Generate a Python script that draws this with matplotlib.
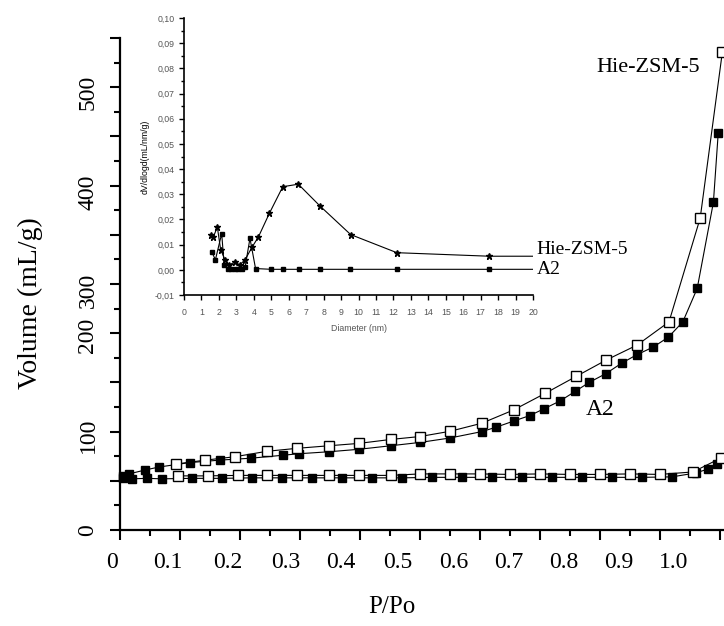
#%%
# Libraries
import numpy as np
import matplotlib
matplotlib.use("Agg")
import matplotlib.pyplot as plt
from matplotlib.ticker import MultipleLocator, NullFormatter

#%%
# Isotherm data, P/Po vs volume (mL/g)
hie_ads_p = [0.005, 0.015, 0.042, 0.065, 0.116, 0.166, 0.219, 0.272, 0.298, 0.348, 0.398,
             0.451, 0.5, 0.55, 0.603, 0.627, 0.656, 0.683, 0.706, 0.733, 0.759, 0.782,
             0.81, 0.836, 0.861, 0.889, 0.914, 0.938, 0.962, 0.989, 0.997]
hie_ads_v = [55, 57, 61, 64, 68.5, 71, 73, 76, 77.5, 79.5, 82,
             85.6, 89, 93.5, 100, 104.5, 110.7, 116.3, 123, 131, 141, 150,
             159, 169.5, 178, 186, 196, 211.5, 245.5, 333, 403]
hie_des_p = [0.093, 0.142, 0.192, 0.245, 0.295, 0.348, 0.398, 0.451, 0.5, 0.55,
             0.603, 0.656, 0.709, 0.76, 0.81, 0.862, 0.915, 0.967, 1.004]
hie_des_v = [67, 71, 74.5, 80, 83, 85.6, 88, 92, 95, 100.3,
             108.5, 122, 139, 156, 172.6, 188, 211.5, 317, 486]

a2_ads_p = [0.005, 0.02, 0.045, 0.07, 0.12, 0.17, 0.22, 0.27, 0.32, 0.37, 0.42, 0.47,
            0.52, 0.57, 0.62, 0.67, 0.72, 0.77, 0.82, 0.87, 0.92, 0.96, 0.98, 0.995]
a2_ads_v = [53, 52, 52.5, 52, 52.5, 52.5, 53, 53, 53, 53, 53, 53,
            53.5, 53.5, 53.5, 53.5, 53.5, 53.5, 53.5, 53.5, 54, 58, 62, 67]
a2_des_p = [0.096, 0.146, 0.196, 0.245, 0.295, 0.348, 0.398, 0.451, 0.5, 0.55,
            0.6, 0.65, 0.7, 0.75, 0.8, 0.85, 0.9, 0.955, 1.001]
a2_des_v = [55, 55, 55.5, 55.5, 55.5, 55.5, 55.5, 55.5, 57, 57,
            57, 56.5, 57, 56.5, 56.5, 57, 56.5, 59, 73]

# Pore size distribution, diameter (nm) vs dV/dlogd
hie_psd_d = [1.55, 1.68, 1.91, 2.1, 2.35, 2.6, 2.9, 3.2, 3.5, 3.9, 4.26, 4.89,
             5.66, 6.55, 7.8, 9.55, 12.2, 17.5, 20]
hie_psd_v = [0.014, 0.013, 0.017, 0.008, 0.004, 0.002, 0.003, 0.002, 0.004, 0.009,
             0.013, 0.0224, 0.033, 0.034, 0.0253, 0.014, 0.0068, 0.0054, 0.0054]
a2_psd_d = [1.6, 1.8, 2.16, 2.3, 2.5, 2.7, 2.9, 3.1, 3.3, 3.5, 3.78, 4.1,
            5.0, 5.7, 6.6, 7.8, 9.5, 12.2, 17.5, 20]
a2_psd_v = [0.007, 0.004, 0.0144, 0.002, 0.0005, 0.0003, 0.0002, 0.0003, 0.0005, 0.001,
            0.0125, 0.0005, 0.0002, 0.0002, 0.0002, 0.0002, 0.0002, 0.0002, 0.0002, 0.0002]

# Tick labels (they sit a bit off the tick marks in the original)
x_labels = ['0', '0.1', '0.2', '0.3', '0.4', '0.5', '0.6', '0.7', '0.8', '0.9', '1.0']
x_label_pos = [-0.013, 0.08, 0.18, 0.277, 0.368, 0.463, 0.557, 0.648, 0.74, 0.832, 0.923]
y_labels = ['0', '100', '200', '300', '400', '500']
y_label_pos = [0, 96, 198, 244, 343, 445]

inset_xticks = list(range(0, 21))
inset_yticks = [-0.01, 0.0, 0.01, 0.02, 0.03, 0.04, 0.05, 0.06, 0.07, 0.08, 0.09, 0.10]

#%%
# Main plot
serif = 'Liberation Serif'
fig = plt.figure(figsize=(7.24, 6.26), dpi=100)
ax = fig.add_axes([120/724, 96/626, 604/724, 492/626])
ax.set_xlim(0, 604/600)
ax.set_ylim(0, 500)
for s in ['top', 'right']:
    ax.spines[s].set_visible(False)
for s in ['left', 'bottom']:
    ax.spines[s].set_linewidth(1.6)

ax.xaxis.set_major_locator(MultipleLocator(0.1))
ax.xaxis.set_minor_locator(MultipleLocator(0.05))
ax.yaxis.set_major_locator(MultipleLocator(50))
ax.yaxis.set_minor_locator(MultipleLocator(25))
ax.xaxis.set_major_formatter(NullFormatter())
ax.yaxis.set_major_formatter(NullFormatter())
ax.tick_params(which='major', direction='out', length=7, width=1.5)
ax.tick_params(which='minor', direction='out', length=4, width=1.5)

ln = dict(color='black', lw=0.8, clip_on=False)
ax.plot(hie_ads_p, hie_ads_v, marker='s', ms=6, mfc='black', mec='black', **ln)
ax.plot(a2_ads_p, a2_ads_v, marker='s', ms=6, mfc='black', mec='black', **ln)
ax.plot(hie_des_p, hie_des_v, marker='s', ms=6.5, mfc='white', mec='black', mew=1, **ln)
ax.plot(a2_des_p, a2_des_v, marker='s', ms=6.5, mfc='white', mec='black', mew=1, **ln)

xt = ax.get_xaxis_transform()
for lab, p in zip(x_labels, x_label_pos):
    ax.text(p, -0.067, lab, transform=xt, ha='center', va='center',
            fontsize=17, family=serif)
yt = ax.get_yaxis_transform()
for lab, p in zip(y_labels, y_label_pos):
    ax.text(-0.053, p, lab, transform=yt, ha='center', va='center', rotation=90,
            fontsize=17, family=serif)

fig.text(392/724, 1 - 607/626, 'P/Po', ha='center', va='center', fontsize=18, family=serif)
fig.text(30/724, 1 - 303/626, 'Volume (mL/g)', ha='center', va='center', rotation=90,
         fontsize=20, family=serif)

ax.text(0.88, 470, 'Hie-ZSM-5', ha='center', va='center', fontsize=16, family=serif)
ax.text(0.8, 122, 'A2', ha='center', va='center', fontsize=17, family=serif)

#%%
# Inset: pore size distribution
sans = 'Liberation Sans'
grey = '#555555'
ins = fig.add_axes([184/724, 1 - 295/626, 349/724, 277/626])
ins.patch.set_alpha(0)
ins.set_xlim(0, 20)
ins.set_ylim(-0.01, 0.10)
for s in ['top', 'right']:
    ins.spines[s].set_visible(False)
for s in ['left', 'bottom']:
    ins.spines[s].set_linewidth(1.2)
ins.set_xticks(inset_xticks)
ins.set_xticklabels([str(t) for t in inset_xticks])
ins.set_yticks(inset_yticks)
ins.set_yticklabels([('%.2f' % t).replace('.', ',') for t in inset_yticks])
ins.yaxis.set_minor_locator(MultipleLocator(0.005))
ins.tick_params(which='major', direction='out', length=3.5, width=1, labelsize=6.3,
                labelcolor=grey, pad=3)
ins.tick_params(axis='x', which='major', pad=6)
ins.tick_params(which='minor', direction='out', length=2, width=1)
for t in ins.get_xticklabels() + ins.get_yticklabels():
    t.set_family(sans)

ins.plot(hie_psd_d, hie_psd_v, color='black', lw=0.8, marker='*', ms=5,
         markevery=slice(0, len(hie_psd_d) - 1))
ins.plot(a2_psd_d, a2_psd_v, color='black', lw=0.8, marker='s', ms=3.5,
         markevery=slice(0, len(a2_psd_d) - 1))

ins.set_xlabel('Diameter (nm)', fontsize=6.3, color=grey, family=sans, labelpad=5)
ins.set_ylabel('dV/dlogd(mL/nm/g)', fontsize=6.3, family=sans, labelpad=4)
ins.text(20.2, hie_psd_v[-1] + 0.0025, 'Hie-ZSM-5', ha='left', va='center',
         fontsize=14, family=serif)
ins.text(20.2, a2_psd_v[-1], 'A2', ha='left', va='center', fontsize=14, family=serif)

fig.savefig('out.png', dpi=100)
